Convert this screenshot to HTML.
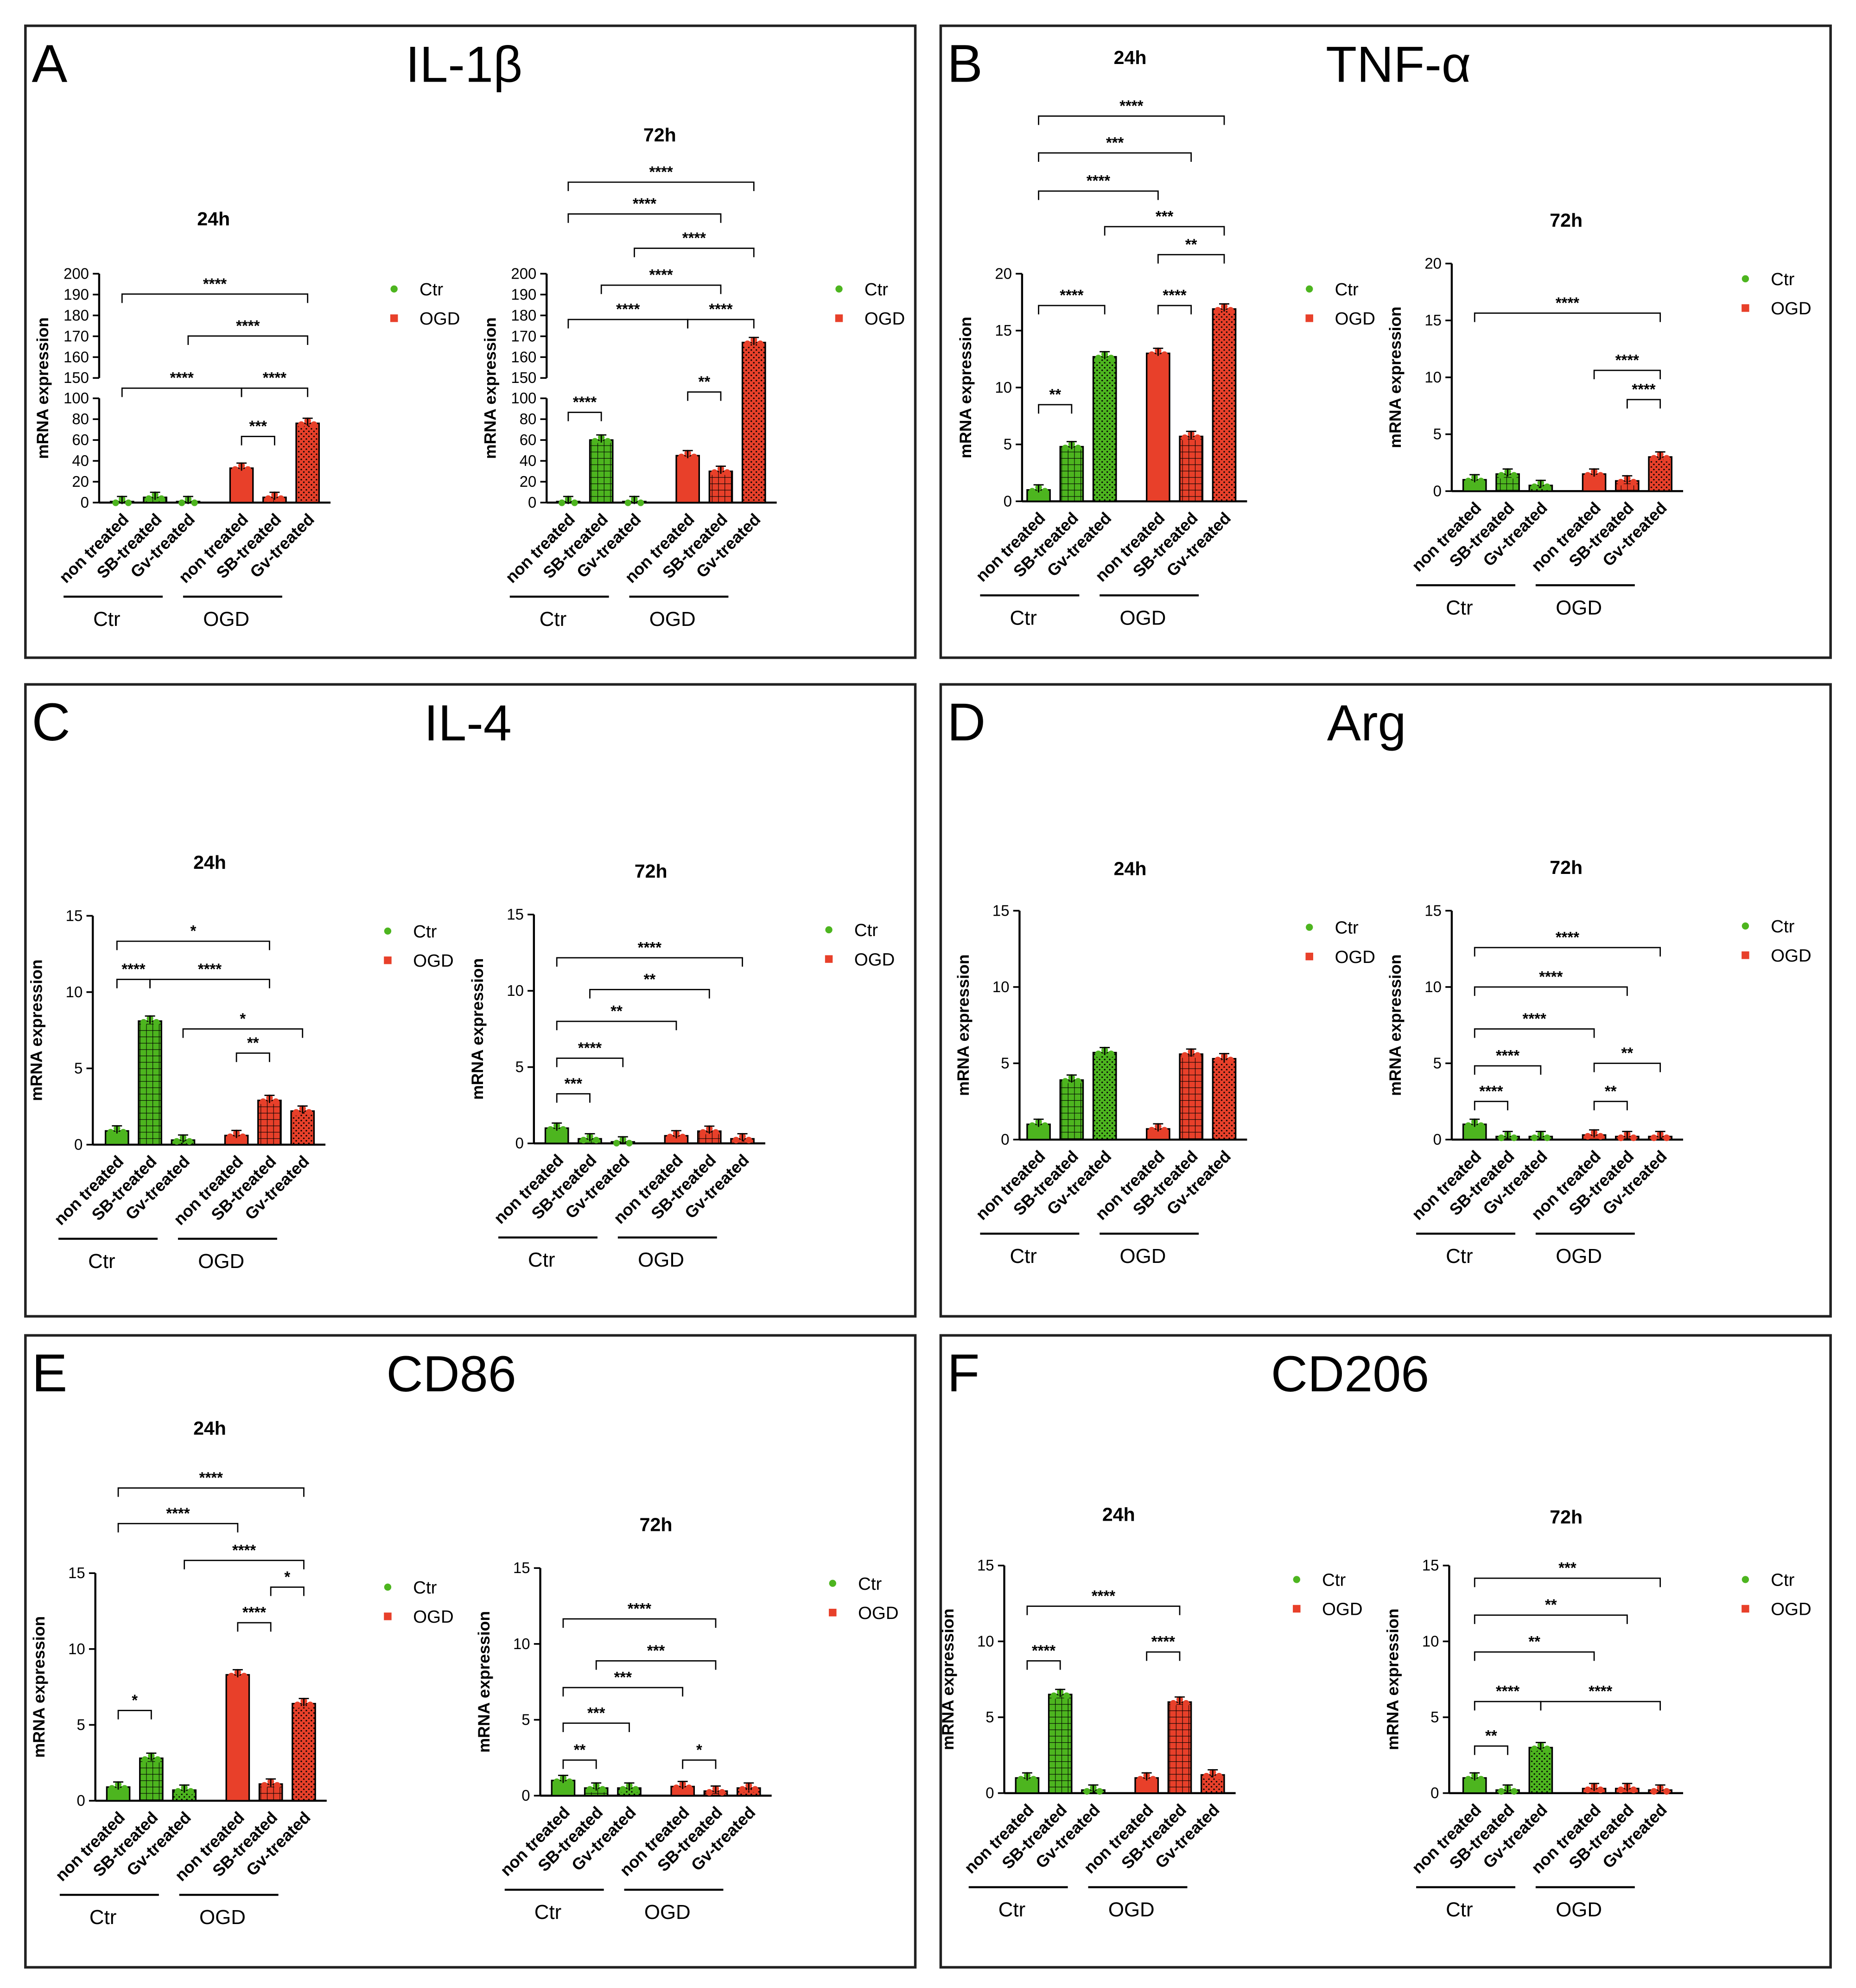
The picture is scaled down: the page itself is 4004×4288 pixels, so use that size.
<!DOCTYPE html>
<html><head><meta charset="utf-8"><style>
html,body{margin:0;padding:0;background:#fff}
svg{display:block}
text{font-family:"Liberation Sans",Arial,sans-serif}
</style></head><body>
<svg id="fig" width="4004" height="4288" viewBox="0 0 1460 1563" xmlns="http://www.w3.org/2000/svg">
<defs>
<pattern id="gridG" width="5" height="5" patternUnits="userSpaceOnUse"><rect width="5" height="5" fill="#4db51f"/><path d="M0 0H5M0 0V5" stroke="#000" stroke-width="0.8"/></pattern>
<pattern id="gridR" width="5" height="5" patternUnits="userSpaceOnUse"><rect width="5" height="5" fill="#e8402a"/><path d="M0 0H5M0 0V5" stroke="#000" stroke-width="0.8"/></pattern>
<pattern id="dotG" width="4" height="4" patternUnits="userSpaceOnUse"><rect width="4" height="4" fill="#4db51f"/><circle cx="1" cy="1" r="0.6" fill="#000"/><circle cx="3" cy="3" r="0.6" fill="#000"/></pattern>
<pattern id="dotR" width="4" height="4" patternUnits="userSpaceOnUse"><rect width="4" height="4" fill="#e8402a"/><circle cx="1" cy="1" r="0.6" fill="#000"/><circle cx="3" cy="3" r="0.6" fill="#000"/></pattern>
</defs>
<rect width="1460" height="1563" fill="#fff"/>
</svg>
<script>
const categories = ["non treated","SB-treated","Gv-treated","non treated","SB-treated","Gv-treated"];
const groupLabels = ["Ctr","OGD"];
const il1b24 = [1,5,1,33,5,76];
const il1b72 = [1,60,1,45,30,167];
const tnf24 = [1,4.8,12.7,13,5.7,16.9];
const tnf72 = [1,1.5,0.5,1.5,0.9,3];
const il4_24 = [0.9,8.1,0.3,0.6,2.9,2.2];
const il4_72 = [1,0.3,0.1,0.5,0.8,0.3];
const arg24 = [1,3.9,5.7,0.7,5.6,5.3];
const arg72 = [1,0.2,0.2,0.3,0.2,0.2];
const cd86_24 = [0.9,2.8,0.7,8.3,1.1,6.4];
const cd86_72 = [1,0.5,0.5,0.6,0.3,0.5];
const cd206_24 = [1,6.5,0.2,1,6,1.2];
const cd206_72 = [1,0.2,3,0.3,0.3,0.2];
const ticks15 = [0,5,10,15];
const ticks20 = [0,5,10,15,20];
const ticksBrokenLow = [0,20,40,60,80,100];
const ticksBrokenHigh = [150,160,170,180,190,200];

const NS="http://www.w3.org/2000/svg";
const svg=document.getElementById('fig');
function el(tag,attrs,parent,txt){const e=document.createElementNS(NS,tag);for(const k in attrs)e.setAttribute(k,attrs[k]);if(txt!==undefined)e.textContent=txt;(parent||svg).appendChild(e);return e;}

const panels=[["A",20,20,"IL-1β",365],["B",740,20,"TNF-α",1100],["C",20,538,"IL-4",368],["D",740,538,"Arg",1075],["E",20,1050,"CD86",355],["F",740,1050,"CD206",1062]];
panels.forEach(p=>{
  const g=el('g',{});
  
  
  const r=el('rect',{x:p[1],y:p[2],width:700,height:497,fill:'none',stroke:'#222','stroke-width':2},g);
  
  const l=el('text',{x:p[1]+5,y:p[2]+44,'font-size':42},g,p[0]);
  
  const t=el('text',{x:p[4],y:p[2]+44,'font-size':40,'text-anchor':'middle'},g,p[3]);
  
});

const charts=[
 {name:'il1b-24h',vals:il1b24,ax:78,yb:395,yt:215,max:200,broken:true,x0:96,title:[168,177],leg:[310,227],br:[[0,5,231,'****'],[2,5,264,'****'],[0,3,305,'****'],[3,5,305,'****'],[3,4,343,'***']]},
 {name:'il1b-72h',vals:il1b72,ax:430,yb:395,yt:215,max:200,broken:true,x0:447,title:[519,111],leg:[660,227],br:[[0,5,143,'****'],[0,4,168,'****'],[2,5,195,'****'],[1,4,224,'****'],[0,3,251,'****'],[3,5,251,'****'],[3,4,308,'**'],[0,1,324,'****']]},
 {name:'tnf-24h',vals:tnf24,ax:804,yb:394,yt:215,max:20,ticks:ticks20,x0:817,title:[889,50],leg:[1030,227],br:[[0,5,91,'****'],[0,4,120,'***'],[0,3,150,'****'],[2,5,178,'***'],[3,5,200,'**'],[0,2,240,'****'],[3,4,240,'****'],[0,1,318,'**']]},
 {name:'tnf-72h',vals:tnf72,ax:1142,yb:386,yt:207,max:20,ticks:ticks20,x0:1160,title:[1232,178],leg:[1373,219],br:[[0,5,246,'****'],[3,5,291,'****'],[4,5,314,'****']]},
 {name:'il4-24h',vals:il4_24,ax:73,yb:900,yt:720,max:15,ticks:ticks15,x0:92,title:[165,683],leg:[305,732],br:[[0,4,740,'*'],[0,1,770,'****'],[1,4,770,'****'],[2,5,809,'*'],[3,4,828,'**']]},
 {name:'il4-72h',vals:il4_72,ax:420,yb:899,yt:719,max:15,ticks:ticks15,x0:438,title:[512,690],leg:[652,731],br:[[0,5,753,'****'],[1,4,778,'**'],[0,3,803,'**'],[0,2,832,'****'],[0,1,860,'***']]},
 {name:'arg-24h',vals:arg24,ax:802,yb:896,yt:716,max:15,ticks:ticks15,x0:817,title:[889,688],leg:[1030,729],br:[]},
 {name:'arg-72h',vals:arg72,ax:1142,yb:896,yt:716,max:15,ticks:ticks15,x0:1160,title:[1232,687],leg:[1373,728],br:[[0,5,745,'****'],[0,4,776,'****'],[0,3,809,'****'],[0,2,838,'****'],[0,1,866,'****'],[3,5,836,'**'],[3,4,866,'**']]},
 {name:'cd86-24h',vals:cd86_24,ax:75,yb:1416,yt:1237,max:15,ticks:ticks15,x0:93,title:[165,1128],leg:[305,1248],br:[[0,5,1170,'****'],[0,3,1198,'****'],[2,5,1227,'****'],[4,5,1248,'*'],[3,4,1276,'****'],[0,1,1345,'*']]},
 {name:'cd86-72h',vals:cd86_72,ax:425,yb:1412,yt:1233,max:15,ticks:ticks15,x0:443,title:[516,1204],leg:[655,1245],br:[[0,4,1273,'****'],[1,4,1306,'***'],[0,3,1327,'***'],[0,2,1355,'***'],[0,1,1384,'**'],[3,4,1384,'*']]},
 {name:'cd206-24h',vals:cd206_24,ax:790,yb:1410,yt:1231,max:15,ticks:ticks15,x0:808,title:[880,1196],leg:[1020,1242],br:[[0,4,1263,'****'],[0,1,1306,'****'],[3,4,1299,'****']]},
 {name:'cd206-72h',vals:cd206_72,ax:1140,yb:1410,yt:1231,max:15,ticks:ticks15,x0:1160,title:[1232,1198],leg:[1373,1242],br:[[0,5,1241,'***'],[0,4,1270,'**'],[0,3,1299,'**'],[0,2,1338,'****'],[2,5,1338,'****'],[0,1,1373,'**']]}
];

const fills=['#4db51f','url(#gridG)','url(#dotG)','#e8402a','url(#gridR)','url(#dotR)'];

charts.forEach(c=>{
  const g=el('g',{});
  
  
  let ys;
  if(c.broken){
    const lowTop=c.yb-82, highBot=c.yb-98;
    ys=v=> v<=100 ? c.yb-(v/100)*(c.yb-lowTop) : (v<150? lowTop : highBot-((v-150)/50)*(highBot-c.yt));
  } else ys=v=>c.yb-(v/c.max)*(c.yb-c.yt);
  const xs=i=>c.x0+i*26+(i>=3?16:0);
  const axEnd=xs(5)+18;
  const ya=el('g',{},g);
  const xa=el('line',{x1:c.ax,x2:axEnd,y1:c.yb,y2:c.yb,stroke:'#000','stroke-width':1.6},g);
  
  let tickList;
  if(c.broken){
    el('line',{x1:c.ax,x2:c.ax,y1:c.yb,y2:ys(100),stroke:'#000','stroke-width':1.6},ya);
    el('line',{x1:c.ax,x2:c.ax,y1:ys(150),y2:c.yt,stroke:'#000','stroke-width':1.6},ya);
    tickList=ticksBrokenLow.concat(ticksBrokenHigh);
  } else {
    el('line',{x1:c.ax,x2:c.ax,y1:c.yb,y2:c.yt,stroke:'#000','stroke-width':1.6},ya);
    tickList=c.ticks;
  }
  tickList.forEach(t=>{
    const y=ys(t);
    el('line',{x1:c.ax-5,x2:c.ax,y1:y,y2:y,stroke:'#000','stroke-width':1.3},ya);
    const tl=el('text',{x:c.ax-8,y:y+4,'font-size':12,'text-anchor':'end'},ya,String(t));
    
  });
  const yl=el('text',{x:0,y:0,'font-size':13,'font-weight':'bold','text-anchor':'middle',transform:`translate(${c.ax-40},${(c.yb+c.yt)/2}) rotate(-90)`},g,'mRNA expression');
  
  const tt=el('text',{x:c.title[0],y:c.title[1],'font-size':15,'font-weight':'bold','text-anchor':'middle'},g,c.name.endsWith('24h')?'24h':'72h');
  
  c.vals.forEach((v,i)=>{
    const x=xs(i),y=ys(v);
    const b=el('rect',{x:x-9,y:y,width:18,height:Math.max(0,c.yb-y),fill:fills[i],stroke:'#000','stroke-width':1.2},g);
    
    
    const col=i<3?'#4db51f':'#e8402a';
    [-5,0,5].forEach((dx,k)=>{
      const m=el('circle',{cx:x+dx,cy:y+(k===1?-2:1),r:2.6,fill:col},g);
      
    });
    el('line',{x1:x,x2:x,y1:y-4,y2:y+2,stroke:'#000','stroke-width':1},g);
    el('line',{x1:x-4,x2:x+4,y1:y-4,y2:y-4,stroke:'#000','stroke-width':1},g);
    const lb=el('text',{x:0,y:0,'font-size':13,'font-weight':'bold','text-anchor':'end',transform:`translate(${x+6},${c.yb+14}) rotate(-45)`},g,categories[i]);
    
  });
  [0,1].forEach(gi=>{
    const a=xs(gi*3)-46,b2=xs(gi*3+2)-20;
    el('line',{x1:a,x2:b2,y1:c.yb+74,y2:c.yb+74,stroke:'#000','stroke-width':1.6},g);
    const gl=el('text',{x:(a+b2)/2-5,y:c.yb+97,'font-size':16,'text-anchor':'middle'},g,groupLabels[gi]);
    
  });
  c.br.forEach(b=>{
    const x1=xs(b[0]),x2=xs(b[1]),y=b[2];
    const bg=el('g',{},g);
    el('path',{d:`M${x1} ${y+7}V${y}H${x2}V${y+7}`,fill:'none',stroke:'#000','stroke-width':1},bg);
    el('text',{x:(x1+x2)/2,y:y-4,'font-size':12,'font-weight':'bold','text-anchor':'middle'},bg,b[3]);
  });
  const lg=el('g',{},g);
  const e1=el('circle',{cx:c.leg[0],cy:c.leg[1],r:2.8,fill:'#4db51f'},lg);
  
  el('text',{x:c.leg[0]+20,y:c.leg[1]+5,'font-size':14},lg,'Ctr');
  const e2=el('rect',{x:c.leg[0]-3,y:c.leg[1]+20,width:6,height:6,fill:'#e8402a'},lg);
  
  el('text',{x:c.leg[0]+20,y:c.leg[1]+28,'font-size':14},lg,'OGD');
});
</script>
</body></html>
